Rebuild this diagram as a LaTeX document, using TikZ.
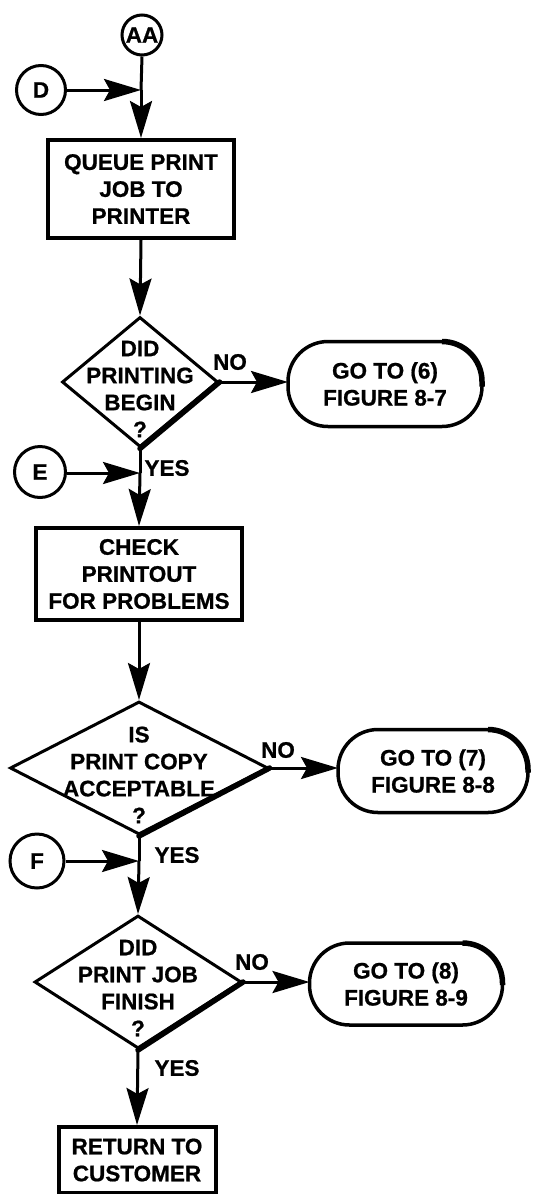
\documentclass[tikz,border=0pt]{standalone}
\usepackage{fontspec}
\setmainfont{Liberation Sans}[BoldFeatures={FakeBold=0.8}]
\usetikzlibrary{arrows.meta,shapes.geometric,calc}
\begin{document}
\begin{tikzpicture}[x=1pt,y=-1pt,
  bigfont/.style={font=\fontsize{22.5}{27}\selectfont\bfseries},
  txt/.style={bigfont, align=center, inner sep=0pt},
  conn/.style={draw, circle, line width=3pt, inner sep=0pt, bigfont},
  procbox/.style={draw, rectangle, line width=4pt, inner sep=0pt, align=center, bigfont},
  dia/.style={draw, diamond, line width=3pt, inner sep=0pt},
  term/.style={draw, rectangle, line width=3.5pt, outer sep=0pt, inner sep=0pt, align=center, bigfont},
  flow/.style={line width=3pt},
  arr/.style={flow, -{Stealth[length=37pt,width=22pt,inset=6pt]}},
  heavy/.style={line width=5.5pt, line cap=round},
  rim/.style={line width=5.5pt},
]
\useasboundingbox (0,0) rectangle (535,1194);

% connectors (circles)
\node[conn, minimum size=40pt] (AA) at (142,35) {AA};
\node[conn, minimum size=49pt] (D) at (41,90) {D};
\node[conn, minimum size=51pt] (E) at (40,472) {E};
\node[conn, minimum size=54pt] (F) at (37,861) {F};

% junctions
\coordinate (jD) at (141,90);
\coordinate (jE) at (140,473);
\coordinate (jF) at (139,861);

% process boxes
\node[procbox, minimum width=186pt, minimum height=98pt] (Q) at (141,189) {QUEUE PRINT\\JOB TO\\PRINTER};
\node[procbox, minimum width=206pt, minimum height=92pt] (C) at (139,574) {CHECK\\PRINTOUT\\FOR PROBLEMS};
\node[procbox, minimum width=157pt, minimum height=66pt] (R) at (137,1160) {RETURN TO\\CUSTOMER};

% decisions
\node[dia, minimum width=156pt, minimum height=130pt] (d1) at (140,382) {};
\node[txt] (d1t) at (140,389) {DID\\PRINTING\\BEGIN\\?};
\node[dia, minimum width=258pt, minimum height=133pt] (d2) at (139,768) {};
\node[txt] (d2t) at (139,775) {IS\\PRINT COPY\\ACCEPTABLE\\?};
\node[dia, minimum width=207pt, minimum height=133pt] (d3) at (138,982) {};
\node[txt] (d3t) at (138,988) {DID\\PRINT JOB\\FINISH\\?};
\draw[heavy] (d1.east) -- (d1.south);
\draw[heavy] (d2.east) -- (d2.south);
\draw[heavy] (d3.east) -- (d3.south);

% terminals
\node[term, rounded corners=40pt, minimum width=194pt, minimum height=85pt] (t1) at (385,384) {GO TO (6)\\FIGURE 8-7};
\node[term, rounded corners=40pt, minimum width=190pt, minimum height=83pt] (t2) at (433,771) {GO TO (7)\\FIGURE 8-8};
\node[term, rounded corners=40pt, minimum width=193pt, minimum height=82pt] (t3) at (406,984) {GO TO (8)\\FIGURE 8-9};
\draw[rim] ($(t1.north east)+(-40,0)$) arc[start angle=-90, end angle=0, radius=40] -- ($(t1.south east)+(0,-40)$);
\draw[rim] ($(t2.north east)+(-40,0)$) arc[start angle=-90, end angle=0, radius=40] -- ($(t2.south east)+(0,-40)$);
\draw[rim] ($(t3.north east)+(-40,0)$) arc[start angle=-90, end angle=0, radius=40] -- ($(t3.south east)+(0,-40)$);

% flow lines
\draw[flow] (AA.south) -- (jD);
\draw[arr] (D.east) -- (jD);
\draw[arr] (jD) -- (Q.north);
\draw[arr] (Q.south) -- (d1.north);
\draw[arr] (d1.east) -- (d1.east -| t1.west);
\draw[flow] (d1.south) -- (jE);
\draw[arr] (E.east |- jE) -- (jE);
\draw[arr] (jE) -- (C.north);
\draw[arr] (C.south) -- (d2.north);
\draw[arr] (d2.east) -- (d2.east -| t2.west);
\draw[flow] (d2.south) -- (jF);
\draw[arr] (F.east |- jF) -- (jF);
\draw[arr] (jF) -- (d3.north);
\draw[arr] (d3.east) -- (d3.east -| t3.west);
\draw[arr] (d3.south) -- (R.north);

% labels
\node[txt] (no1) at (230,362) {NO};
\node[txt] (yes1) at (167,468) {YES};
\node[txt] (no2) at (278,750) {NO};
\node[txt] (yes2) at (177,855) {YES};
\node[txt] (no3) at (252,962) {NO};
\node[txt] (yes3) at (177,1068) {YES};
\end{tikzpicture}
\end{document}
